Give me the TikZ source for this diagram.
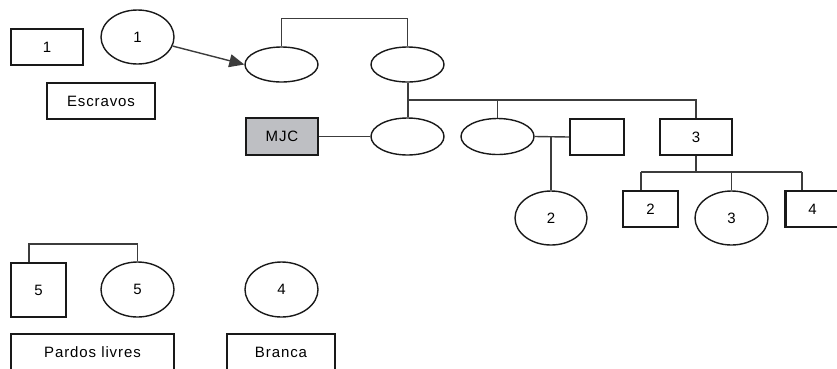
\documentclass[tikz,border=0pt]{standalone}
\usepackage{fontspec}
\setmainfont[LetterSpace=6]{Liberation Sans}
\usetikzlibrary{shapes.geometric,arrows.meta}
\definecolor{linkgray}{HTML}{3C3C3C}
\definecolor{mjcfill}{HTML}{BEBFC3}
\tikzset{
  every node/.style={font=\fontsize{15}{18}\selectfont, inner sep=0pt},
  person/.style={draw=black!90, line width=2.4pt, rectangle},
  woman/.style={draw=black!90, line width=1.4pt, ellipse},
  link/.style={draw=linkgray, line width=1.4pt},
}
\begin{document}
\begin{tikzpicture}[x=1pt,y=-1pt]
\useasboundingbox (0,0) rectangle (837,368);
\clip (0,0) rectangle (837,368);

% legend: slaves
\node[person, minimum width=72pt, minimum height=36pt] (b1) at (47,47) {1};
\node[woman, minimum width=73pt, minimum height=54pt] (e1) at (137.5,37) {1};
\node[person, minimum width=108pt, minimum height=36pt] (esc) at (101,101) {Escravos};

% family tree
\node[woman, minimum width=73pt, minimum height=35pt] (eA) at (281.5,64.5) {};
\node[woman, minimum width=73pt, minimum height=35pt] (eB) at (407.5,64.5) {};
\node[woman, minimum width=73pt, minimum height=37pt] (eC) at (407.5,136.5) {};
\node[person, fill=mjcfill, minimum width=72pt, minimum height=37pt] (mjc) at (282,136.5) {MJC};
\node[woman, minimum width=73pt, minimum height=36pt] (eD) at (497.5,136.5) {};
\node[person, minimum width=54pt, minimum height=36pt] (bE) at (597,137) {};
\node[woman, minimum width=72pt, minimum height=54pt] (e2) at (551,218) {2};
\node[person, minimum width=72pt, minimum height=36pt] (b3) at (696,137) {3};
\node[person, minimum width=55pt, minimum height=36pt] (b2) at (650.5,209) {2};
\node[woman, minimum width=73pt, minimum height=54pt] (e3) at (731.5,218) {3};
\node[person, minimum width=54pt, minimum height=36pt] (b4) at (812.5,209) {4};

% legend: free people of colour and white
\node[person, minimum width=55pt, minimum height=54pt] (b5) at (38.5,290) {5};
\node[woman, minimum width=73pt, minimum height=55pt] (e5) at (137.5,289.5) {5};
\node[woman, minimum width=73pt, minimum height=55pt] (e4) at (281.5,289.5) {4};
\node[person, minimum width=163pt, minimum height=36pt] (pardos) at (92.5,352) {Pardos livres};
\node[person, minimum width=108pt, minimum height=36pt] (branca) at (281,352) {Branca};

% connectors
\draw[link, -{Triangle[length=15pt,width=13pt]}] (e1) -- (eA.west);
\draw[link] (eA.north) -- ++(0,-28) -| (eB.north);
\draw[link, line width=2pt] (eB.south) -- (eC.north);
\coordinate (sib) at (407.5,100);
\draw[link] (sib) -| (b3.north);
\draw[link] (sib -| eD.north) -- (eD.north);
\draw[link] (mjc.east) -- (eC.west);
\draw[link] (eD.east) -- (bE.west);
\coordinate (m2) at (551,136.5);
\draw[link] (m2) -- (e2.north);
\coordinate (kids) at (696,172);
\draw[link] (b3.south) -- (kids);
\coordinate (kL) at (641,172);
\coordinate (kR) at (802,172);
\draw[link] (kL) -- (kR);
\draw[link] (kL) -- (kL |- b2.north);
\draw[link] (kids -| e3.north) -- (e3.north);
\draw[link] (kR) -- (kR |- b4.north);
\draw[link] (b5.north -| 29,0) -- (29,244) -| (e5.north);
\end{tikzpicture}
\end{document}
